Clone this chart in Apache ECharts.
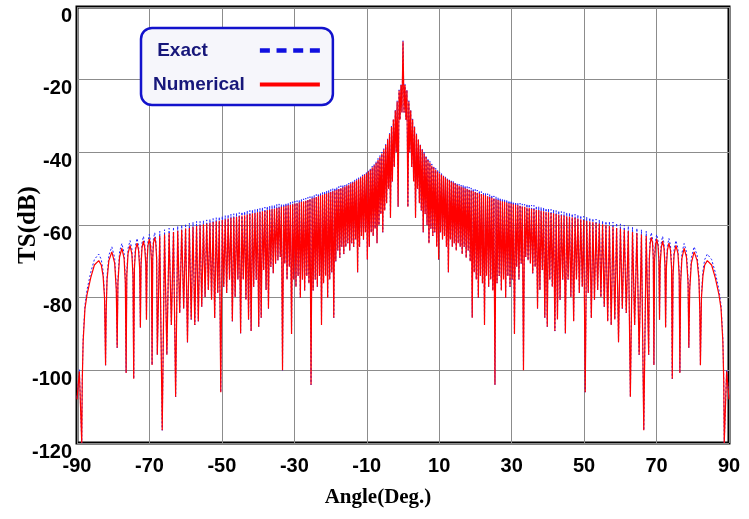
<!DOCTYPE html>
<html>
<head>
<meta charset="utf-8">
<title>TS pattern</title>
<script src="https://cdn.jsdelivr.net/npm/echarts@6/dist/echarts.min.js"></script>
<style>
  html, body { margin: 0; padding: 0; background: #fff; }
  #chart { width: 749px; height: 519px; }
</style>
</head>
<body>
<div id="chart"></div>
<script>
// pattern is symmetric about 0 deg, values below are for the 0..90 half
const nullAngles = [0.29, 0.82, 1.35, 1.87, 2.40, 2.93, 3.46, 3.99, 4.52, 5.05,
  5.58, 6.11, 6.64, 7.17, 7.70, 8.23, 8.77, 9.30, 9.84, 10.37,
  10.91, 11.45, 11.99, 12.53, 13.07, 13.61, 14.15, 14.70, 15.24, 15.79,
  16.34, 16.89, 17.44, 18.00, 18.55, 19.11, 19.67, 20.23, 20.80, 21.36,
  21.93, 22.50, 23.07, 23.65, 24.22, 24.80, 25.39, 25.97, 26.56, 27.15,
  27.75, 28.34, 28.95, 29.55, 30.16, 30.77, 31.39, 32.01, 32.63, 33.26,
  33.89, 34.53, 35.17, 35.82, 36.48, 37.14, 37.80, 38.47, 39.15, 39.83,
  40.52, 41.22, 41.93, 42.64, 43.36, 44.09, 44.83, 45.58, 46.34, 47.11,
  47.89, 48.68, 49.49, 50.31, 51.14, 51.99, 52.86, 53.74, 54.64, 55.56,
  56.51, 57.48, 58.47, 59.50, 60.55, 61.64, 62.77, 63.95, 65.19, 66.47,
  67.83, 69.27, 70.82, 72.50, 74.34, 76.44, 78.91, 82.11, 88.69];
const nullDb = [-29, -31, -55, -40, -44, -48, -58, -50, -54, -56,
  -62, -57, -60, -65, -61, -63, -62, -66, -69.5, -62,
  -64, -63, -66, -73, -64, -66, -65, -67, -65, -66,
  -68, -66, -69, -67, -70, -85.5, -73, -75, -80, -74,
  -76, -87.5, -74, -77, -75, -78, -104, -76, -74, -78,
  -75, -80, -74, -77, -75, -90, -71.5, -75, -70.6, -100,
  -68.8, -69.7, -70.6, -73.3, -71.5, -83, -77.9, -72.4, -85.5, -88,
  -75.1, -77, -89.2, -86, -80.6, -75, -89.8, -75, -79.8, -86.5,
  -75, -78.7, -77, -106, -78.7, -85.6, -80.6, -77.9, -79.8, -82.5,
  -86.5, -87.5, -86, -92.3, -83, -84.2, -107.3, -87.5, -95.7, -116.5,
  -95.7, -98.5, -86.1, -88.2, -102.3, -100.7, -93.8, -98.6, -120];

const peakAngles = [0.55, 1.08, 1.61, 2.13, 2.66, 3.19, 3.72, 4.25, 4.78, 5.31,
  5.84, 6.37, 6.90, 7.43, 7.96, 8.50, 9.03, 9.57, 10.10, 10.64,
  11.18, 11.72, 12.26, 12.80, 13.34, 13.88, 14.42, 14.97, 15.51, 16.06,
  16.61, 17.16, 17.72, 18.27, 18.83, 19.39, 19.95, 20.51, 21.08, 21.64,
  22.21, 22.78, 23.36, 23.93, 24.51, 25.09, 25.68, 26.26, 26.85, 27.45,
  28.04, 28.64, 29.25, 29.85, 30.46, 31.08, 31.70, 32.32, 32.94, 33.57,
  34.21, 34.85, 35.49, 36.15, 36.81, 37.47, 38.13, 38.81, 39.49, 40.17,
  40.87, 41.57, 42.28, 43.00, 43.72, 44.46, 45.20, 45.96, 46.72, 47.50,
  48.28, 49.08, 49.90, 50.72, 51.56, 52.42, 53.30, 54.19, 55.10, 56.03,
  56.99, 57.97, 58.98, 60.02, 61.09, 62.20, 63.36, 64.57, 65.83, 67.15,
  68.55, 70.04, 71.66, 73.42, 75.35, 77.61, 80.38, 84.0];
const peakNumerical = [-21.5, -23, -26, -28.5, -31, -33, -35, -36.5, -38, -39.2,
  -40.3, -41.3, -42.1, -42.9, -43.6, -44.2, -44.8, -45.3, -45.8, -46.2,
  -46.6, -47, -47.4, -47.7, -48, -48.3, -48.6, -48.9, -49.2, -49.4,
  -49.7, -49.9, -50.1, -50.3, -50.5, -50.7, -50.9, -51.1, -51.3, -51.5,
  -51.7, -51.9, -52.1, -52.3, -52.5, -52.7, -52.9, -53.1, -53.3, -53.5,
  -53.6, -53.8, -54, -54.1, -54.3, -54.4, -54.6, -54.7, -54.9, -55,
  -55.2, -55.3, -55.5, -55.6, -55.8, -55.9, -56.1, -56.2, -56.4, -56.5,
  -56.7, -56.8, -57, -57.1, -57.3, -57.4, -57.6, -57.7, -57.9, -58,
  -58.2, -58.4, -58.6, -58.8, -59, -59.2, -59.4, -59.6, -59.8, -60,
  -60.3, -60.5, -60.8, -61, -61.3, -61.6, -61.9, -62.2, -62.6, -63,
  -63.4, -63.9, -64.4, -65, -65.6, -66.4, -67.4, -69.8];
const peakExact = [-21.3, -22.8, -25.8, -28.3, -30.8, -32.8, -34.8, -36.3, -37.8, -39.0,
  -39.9, -40.9, -41.7, -42.5, -43.2, -43.8, -44.4, -44.9, -45.4, -45.8,
  -46.2, -46.6, -47.0, -47.3, -47.6, -47.9, -48.2, -48.5, -48.8, -49.0,
  -49.0, -49.2, -49.4, -49.6, -49.8, -50.0, -50.2, -50.4, -50.6, -50.8,
  -51.0, -51.2, -51.4, -51.6, -51.8, -52.0, -52.2, -52.4, -52.6, -52.8,
  -52.9, -53.1, -53.3, -53.4, -53.6, -53.7, -53.9, -54.0, -54.2, -54.3,
  -54.2, -54.3, -54.5, -54.6, -54.8, -54.9, -55.1, -55.2, -55.4, -55.5,
  -55.7, -55.8, -56.0, -56.1, -56.3, -56.4, -56.6, -56.7, -56.9, -57.0,
  -57.2, -57.4, -57.6, -57.8, -58.0, -58.2, -58.4, -58.6, -58.8, -59.0,
  -59.0, -59.2, -59.5, -59.7, -60.0, -60.3, -60.6, -60.9, -61.3, -61.7,
  -62.1, -62.6, -63.1, -63.7, -64.3, -65.1, -66.0, -68.0];

// extra points on the wide outer lobes so they keep their round tops
const shoulderAngles = [68.0, 68.25, 68.9, 69.1, 69.45, 69.7, 70.4, 70.65,
  71.0, 71.3, 72.05, 72.32, 72.7, 73.0, 73.85, 74.15, 74.55, 74.85, 75.9, 76.25,
  76.65, 77.0, 78.25, 78.7, 79.15, 79.6, 81.2, 81.7, 81.95,
  82.4, 82.8, 83.3, 85.2, 86.2, 87.2, 87.8, 88.3, 88.55];
const shoulderNumerical = [-69.5, -65, -65, -69.5, -70, -65.6, -65.6, -70,
  -71, -66.3, -66.3, -71, -72, -67, -67, -72, -74, -68, -67.8, -74,
  -76, -69.2, -68.8, -76, -78, -70.5, -69.8, -75, -84,
  -80, -74, -71, -71, -74.5, -79, -83, -92, -103];
const shoulderExact = [-68.7, -63.9, -63.9, -68.7, -69, -64.4, -64.4, -69,
  -70, -65, -65, -70, -71, -65.7, -65.7, -71, -73, -66.6, -66.4, -73,
  -75, -67.7, -67.3, -75, -77, -69, -68.3, -74, -83,
  -79, -72.6, -69.5, -69.5, -73, -77.7, -82, -91, -102.5];

const edgeAngles = [89.35, 90];
const edgeNumerical = [-100.3, -108];
const edgeExact = [-99.8, -107.5];

const centerNumerical = -9.5;
const centerExact = -9.3;

function halfCurve(peaks, shoulders, edges) {
  const pts = [];
  nullAngles.forEach((a, i) => pts.push([a, nullDb[i]]));
  peakAngles.forEach((a, i) => pts.push([a, peaks[i]]));
  shoulderAngles.forEach((a, i) => pts.push([a, shoulders[i]]));
  edgeAngles.forEach((a, i) => pts.push([a, edges[i]]));
  pts.sort((p, q) => p[0] - q[0]);
  return pts;
}

function fullCurve(center, peaks, shoulders, edges) {
  const right = halfCurve(peaks, shoulders, edges);
  const left = right.map(p => [-p[0], p[1]]).reverse();
  return left.concat([[0, center]], right);
}

const exactData = fullCurve(centerExact, peakExact, shoulderExact, edgeExact);
const numericalData = fullCurve(centerNumerical, peakNumerical, shoulderNumerical, edgeNumerical);

const chart = echarts.init(document.getElementById('chart'), null, { renderer: 'canvas' });

const tickFont = {
  fontFamily: 'Liberation Sans',
  fontWeight: 'bold',
  fontSize: 20,
  color: '#000'
};
const legendFont = {
  fontFamily: 'Liberation Sans',
  fontWeight: 'bold',
  fontSize: 19,
  color: '#17177a'
};

chart.setOption({
  animation: false,
  backgroundColor: '#fff',
  grid: {
    left: 77, right: 20, top: 7, bottom: 76,
    outerBoundsMode: 'none',
    containLabel: false,
    show: true,
    borderColor: '#000',
    borderWidth: 3,
    backgroundColor: 'transparent'
  },
  legend: {
    left: 141,
    top: 28,
    orient: 'vertical',
    align: 'right',
    padding: [13, 13, 11, 12],
    itemWidth: 60,
    itemHeight: 20,
    itemGap: 15,
    backgroundColor: '#f6f6fb',
    borderColor: '#1212cc',
    borderWidth: 2.5,
    borderRadius: 11,
    formatter: name => name === 'Exact' ? '{e|' + name + '}' : '{n|' + name + '}',
    textStyle: {
      rich: {
        e: Object.assign({ padding: [0, 47, 0, 0] }, legendFont),
        n: Object.assign({ padding: [0, 10, 0, 0] }, legendFont)
      }
    },
    data: [
      { name: 'Exact', icon: 'path://M0,0h9v4h-9z M15,0h9v4h-9z M30,0h9v4h-9z M45,0h9v4h-9z', itemStyle: { color: '#1010e0' } },
      { name: 'Numerical', icon: 'path://M0,0h58v4h-58z', itemStyle: { color: '#ff0000' } }
    ]
  },
  xAxis: {
    type: 'value',
    min: -90,
    max: 90,
    interval: 20,
    name: 'Angle(Deg.)',
    nameLocation: 'middle',
    nameGap: 44,
    nameMoveOverlap: false,
    nameTextStyle: {
      fontFamily: 'Liberation Serif',
      fontWeight: 'bold',
      fontSize: 21,
      color: '#000',
      padding: [0, 50, 0, 0]
    },
    axisLine: { show: false },
    axisTick: { show: false },
    axisLabel: Object.assign({ margin: 13 }, tickFont),
    splitLine: { show: true, lineStyle: { color: '#8c8c8c', width: 1 } }
  },
  yAxis: {
    type: 'value',
    min: -120,
    max: 0,
    interval: 20,
    name: 'TS(dB)',
    nameLocation: 'middle',
    nameRotate: 90,
    nameGap: 36,
    nameMoveOverlap: false,
    nameTextStyle: {
      fontFamily: 'Liberation Serif',
      fontWeight: 'bold',
      fontSize: 25,
      color: '#000'
    },
    axisLine: { show: false },
    axisTick: { show: false },
    axisLabel: Object.assign({ margin: 5, verticalAlign: 'top', padding: [-1, 0, 0, 0] }, tickFont),
    splitLine: { show: true, lineStyle: { color: '#8c8c8c', width: 1 } }
  },
  series: [
    {
      name: 'Exact',
      type: 'line',
      data: exactData,
      symbol: 'none',
      lineStyle: { color: '#2323ff', width: 1, type: [2, 2] },
      itemStyle: { color: '#2323ff' },
      z: 2
    },
    {
      name: 'Numerical',
      type: 'line',
      data: numericalData,
      symbol: 'none',
      lineStyle: { color: '#ff0000', width: 1.2 },
      itemStyle: { color: '#ff0000' },
      z: 3
    }
  ]
});
</script>
</body>
</html>
